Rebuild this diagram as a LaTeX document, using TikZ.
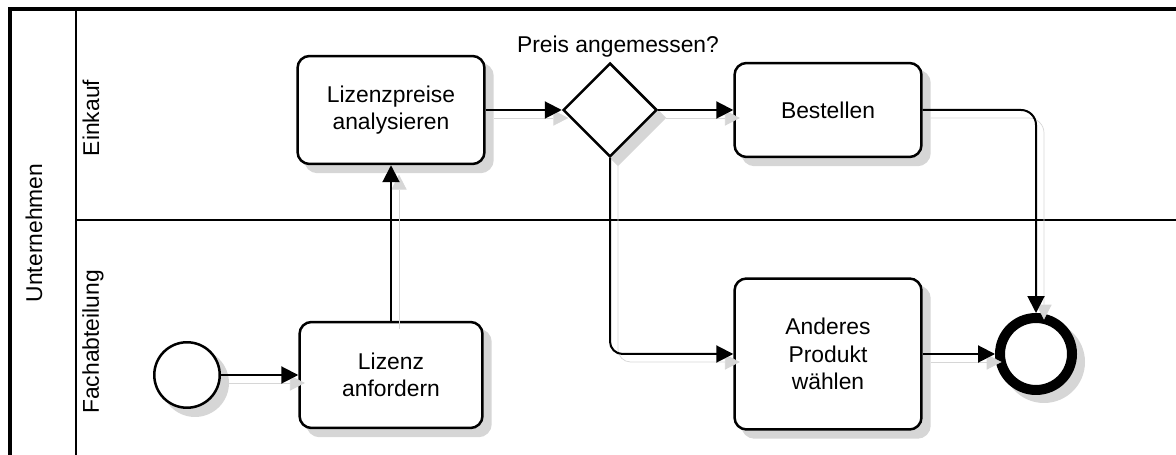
\documentclass[tikz,border=0pt]{standalone}
\usepackage{fontspec}
\setmainfont{Liberation Sans}
\usetikzlibrary{shapes.geometric,arrows.meta}

\begin{document}
\begin{tikzpicture}[x=0.02cm,y=-0.02cm,
    font=\fontsize{13}{15.7}\selectfont,
    shadowed/.style={preaction={fill=black!16,draw=black!16,transform canvas={xshift=0.16cm,yshift=-0.16cm}}},
    task/.style={draw,rounded corners=0.24cm,line width=0.05cm,fill=white,align=center,minimum width=3.74cm,shadowed},
    flow/.style={-{Triangle[length=0.34cm,width=0.34cm]},line width=0.04cm,
      preaction={draw=black!16,transform canvas={xshift=0.16cm,yshift=-0.16cm}}}]
        \useasboundingbox (0,0) rectangle (1176,455);

        % pool and lanes
        \draw[line width=0.09cm] (1176,9) -- (10,9) -- (10,455);
        \draw[line width=0.025cm] (76,9) -- (76,455);
        \draw[line width=0.025cm] (76,220) -- (1176,220);
        \node[rotate=90] (pool) at (34,233) {Unternehmen};
        \node[rotate=90] (ek) at (91,118) {Einkauf};
        \node[rotate=90] (fa) at (93,342) {Fachabteilung};

        \node[circle,draw,line width=0.05cm,fill=white,minimum size=1.31cm,shadowed] (s) at (187,375) {};
        \node[task,minimum width=3.66cm,minimum height=2.12cm] (la) at (391,375) {Lizenz\\anfordern};
        \node[task,minimum height=2.16cm] (lp) at (391,110) {Lizenzpreise\\analysieren};
        \node[diamond,draw,line width=0.05cm,fill=white,minimum size=1.88cm,inner sep=0pt,shadowed] (g) at (610,110) {};
        \node (gl) at (618,47) {Preis angemessen?};
        \node[task,minimum height=1.88cm] (b) at (828,110) {Bestellen};
        \node[task,minimum height=3.02cm] (ap) at (828,354) {Anderes\\Produkt\\wählen};
        \node[circle,draw,line width=0.2cm,fill=white,minimum size=1.44cm,shadowed] (e) at (1036,354) {};

        \draw[flow] (s) -- (la);
        \draw[flow] (la) -- (lp);
        \draw[flow] (lp) -- (g);
        \draw[flow] (g) -- (b);
        \draw[flow,rounded corners=0.25cm] (g) |- (ap);
        \draw[flow,rounded corners=0.3cm] (b) -| (e);
        \draw[flow] (ap) -- (e);

\end{tikzpicture}
\end{document}
